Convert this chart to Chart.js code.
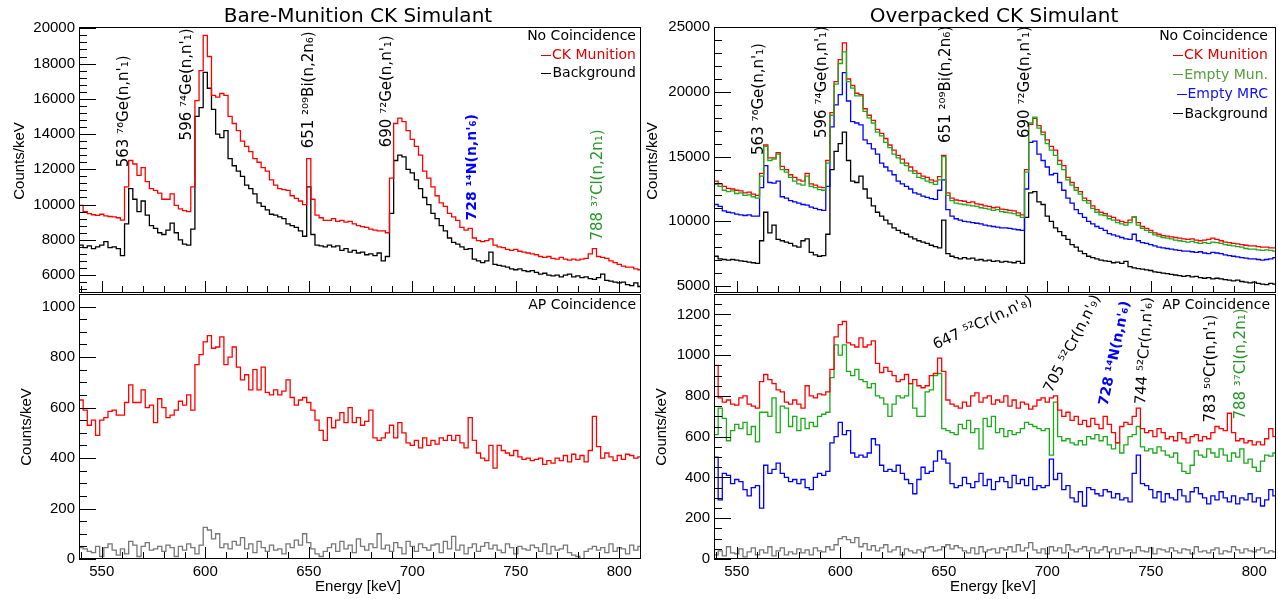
<!DOCTYPE html>
<html>
<head>
<meta charset="utf-8">
<script src="https://cdn.jsdelivr.net/npm/chart.js@4.4.0/dist/chart.umd.min.js"></script>
<style>
body { margin: 0; background: #fff; }
#wrap { position: relative; width: 1278px; height: 599px; overflow: hidden; background: #fff; }
canvas { position: absolute; }
.c { position: absolute; transform: translate(-50%, -50%); white-space: nowrap; font-family: "DejaVu Sans"; color: #000; }
.ttl { font-size: 20px; }
.xt { font: 15px "Liberation Sans"; }
.yt { position: absolute; transform: translate(-50%, -50%) rotate(-90deg); font: 15px "Liberation Sans"; white-space: nowrap; }
.lg { position: absolute; transform: translateY(-50%); font: 14px "DejaVu Sans"; white-space: nowrap; }
.d { display: inline-block; width: 10px; border-top: 1.5px solid currentColor; vertical-align: middle; margin-right: 1px; }
</style>
</head>
<body>
<div id="wrap">
  <canvas id="cTL" width="645" height="294" style="left:0;top:0"></canvas>
  <canvas id="cBL" width="645" height="306" style="left:0;top:293px"></canvas>
  <canvas id="cTR" width="633" height="294" style="left:645px;top:0"></canvas>
  <canvas id="cBR" width="633" height="306" style="left:645px;top:293px"></canvas>

  <div class="c ttl" style="left:358px;top:15px">Bare-Munition CK Simulant</div>
  <div class="c ttl" style="left:994px;top:15px">Overpacked CK Simulant</div>

  <div class="yt" style="left:18px;top:161px">Counts/keV</div>
  <div class="yt" style="left:25px;top:427px">Counts/keV</div>
  <div class="yt" style="left:651px;top:161px">Counts/keV</div>
  <div class="yt" style="left:660px;top:427px">Counts/keV</div>

  <div class="c xt" style="left:358px;top:585px">Energy [keV]</div>
  <div class="c xt" style="left:993px;top:585px">Energy [keV]</div>

  <div class="lg" style="right:642px;top:35px">No Coincidence</div>
  <div class="lg" style="right:642px;top:54px;color:#e00000"><span class="d"></span>CK Munition</div>
  <div class="lg" style="right:642px;top:72px"><span class="d"></span>Background</div>
  <div class="lg" style="right:642px;top:304px">AP Coincidence</div>

  <div class="lg" style="right:10px;top:35px">No Coincidence</div>
  <div class="lg" style="right:10px;top:54px;color:#e00000"><span class="d"></span>CK Munition</div>
  <div class="lg" style="right:10px;top:73.5px;color:#55a03c"><span class="d"></span>Empty Mun.</div>
  <div class="lg" style="right:10px;top:93px;color:#1010ff"><span class="d"></span>Empty MRC</div>
  <div class="lg" style="right:10px;top:112.5px"><span class="d"></span>Background</div>
  <div class="lg" style="right:8px;top:304px">AP Coincidence</div>
</div>

<script>
// binning: 2 keV bins, first bin starts at 539 keV (bin centres 540 ... 810)
const BIN_LO = 539;
const BIN_W = 2;
const E_MIN = 539, E_MAX = 810.5;
const xTickLabels = [550, 600, 650, 700, 750, 800];

// --- Bare munition, no coincidence ---
const ckBareNo = [
  9950, 9600, 9480, 9420, 9380, 9450, 9360, 9320, 9300, 9250,
  9120, 11000, 12500, 12300, 11650, 12100, 11300, 10900, 10800, 10650,
  10300, 10300, 10600, 9950, 9750, 9650, 9600, 11000, 15900, 17600,
  19600, 18400, 16200, 16100, 16300, 16200, 15000, 14600, 14200, 13600,
  13300, 13000, 12600, 12400, 12100, 11900, 11400, 11100, 10900, 10850,
  10800, 10500, 10350, 10200, 10000, 12600, 10300, 9400, 9250, 9100,
  9100, 9200, 9050, 9100, 9000, 9050, 8900, 8800, 8750, 8700,
  8600, 8550, 8500, 8500, 8400, 11500, 14600, 14900, 14700, 14200,
  13700, 13300, 12800, 11900, 11500, 11000, 10500, 10100, 9900, 9500,
  9300, 9100, 8700, 8550, 8650, 8100, 7950, 7900, 7950, 8050,
  7700, 7600, 7550, 7450, 7400, 7450, 7350, 7300, 7250, 7200,
  7150, 7050, 7000, 7050, 6950, 6900, 7000, 6900, 6850, 6900,
  6850, 6900, 6950, 7200, 7500, 7050, 7000, 6950, 6800, 6700,
  6600, 6500, 6450, 6450, 6350, 6300
];
const bgBareNo = [
  7700, 7550, 7650, 7500, 7600, 7700, 7900, 7550, 7600, 7500,
  7100, 8900, 10900, 10300, 9600, 10200, 9400, 8800, 8650, 8400,
  8300, 8550, 8950, 8400, 8000, 7750, 7700, 8600, 15000, 15500,
  17500, 16600, 15400, 14000, 13800, 14200, 12600, 12200, 11900, 11600,
  11100, 10900, 10600, 10100, 9900, 9700, 9450, 9400, 9300, 9200,
  8900, 8800, 8700, 8500, 8200, 11000, 8300, 7700, 7650, 7600,
  7700, 7600, 7650, 7400, 7500, 7300, 7400, 7250, 7300, 7150,
  7200, 7100, 7250, 6800, 7050, 9500, 12500, 12800, 12700, 12000,
  11800, 11400, 10900, 10400, 10000, 9500, 9200, 8800, 8500, 8100,
  7850, 7750, 7600, 7450, 7500, 6900, 6800, 6700, 6800, 7300,
  6600, 6550, 6500, 6450, 6350, 6300, 6350, 6250, 6200, 6250,
  6150, 6050, 6100, 6000, 5950, 6000, 5900, 6000, 6050, 5900,
  5950, 5850, 5900, 5800, 5750, 5850, 6050, 5700, 5650, 5600,
  5550, 5600, 5450, 5400, 5550, 5350
];

// --- Bare munition, AP coincidence ---
const ckBareAP = [
  630, 590, 530, 550, 490, 550, 560, 585, 590, 570,
  570, 620, 690, 620, 620, 670, 600, 610, 540, 635,
  600, 560, 570, 590, 625, 610, 650, 590, 770, 810,
  860, 885, 835, 840, 880, 770, 800, 840, 760, 710,
  730, 670, 750, 670, 760, 660, 650, 670, 650, 665,
  710, 640, 610, 630, 640, 620, 590, 550, 510, 470,
  560, 520, 550, 580, 540, 600, 540, 560, 530, 545,
  590, 480, 470, 480, 500, 530, 480, 540, 500, 460,
  450, 470, 440, 480, 450, 470, 455, 480, 470, 490,
  470, 490, 460, 440, 560, 470, 420, 400, 390, 450,
  360, 450, 430, 420, 410, 430, 405, 395, 400, 390,
  395, 400, 375, 390, 380, 400, 390, 410, 385, 415,
  395, 410, 385, 430, 565, 445, 400, 420, 405, 390,
  410, 395, 415, 410, 400, 405
];
const bgBareAP = [
  45, 40, 30, 25, 50, 10, 45, 60, 35, 15,
  40, 20, 70, 55, 10, 50, 65, 35, 40, 50,
  30, 55, 45, 10, 50, 35, 60, 45, 20, 55,
  125, 115, 80, 100, 45, 60, 40, 70, 55, 85,
  40, 60, 25, 70, 45, 30, 55, 35, 40, 20,
  60, 45, 75, 55, 100, 65, 40, 20, 10, 30,
  45, 60, 30, 70, 40, 55, 25, 80, 50, 35,
  60, 45, 100, 40, 55, 30, 65, 45, 20, 70,
  50, 30, 60, 45, 35, 55, 60, 25, 70, 40,
  90, 35, 55, 20, 45, 60, 30, 50, 65, 40,
  55, 35, 25, 60, 45, 20, 50, 40, 35, 55,
  45, 30, 60, 20, 50, 35, 40, 55, 25, 15,
  10, 0, 30, 40, 50, 35, 45, 25, 60, 30,
  45, 40, 20, 55, 35, 50
];

// --- Overpacked, no coincidence ---
const ckOverNo = [
  13100, 12900, 12700, 12550, 12500, 12400, 12350, 12200, 12250, 12100,
  12000, 13700, 15900, 14900, 14900, 15300, 14250, 14000, 13600, 13400,
  13200, 13100, 13700, 12900, 12800, 12650, 12600, 14700, 18400, 20800,
  22500, 23800, 21000, 20500, 19900, 19800, 18700, 18200, 17800, 17100,
  16800, 16400, 15900, 15500, 15100, 14800, 14500, 14200, 13900, 13700,
  13500, 13400, 13200, 13100, 13450, 15100, 12200, 11800, 11650, 11600,
  11550, 11450, 11500, 11350, 11300, 11200, 11150, 11050, 11100, 10950,
  10900, 10850, 10800, 10650, 10500, 14000, 17500, 17950, 17400, 16900,
  16300, 15800, 15500, 14700, 14300, 13400, 13000, 12600, 12300, 11800,
  11600, 11200, 10900, 10700, 10600, 10400, 10300, 10100, 10000, 9900,
  10100, 10350, 9900, 9600, 9450, 9300, 9100, 9000, 8900, 8850,
  8800, 8750, 8700, 8650, 8600, 8650, 8550, 8500, 8550, 8600,
  8700, 8600, 8500, 8400, 8350, 8300, 8250, 8200, 8150, 8100,
  8100, 8050, 8000, 8000, 7950, 7950
];
const emptyMunNo = [
  12850, 12700, 12400, 12300, 12350, 12150, 12200, 12000, 12050, 11900,
  11800, 13500, 15800, 14700, 14800, 15200, 14000, 13800, 13400, 13100,
  12900, 12800, 13500, 12700, 12600, 12450, 12400, 14500, 18200, 20600,
  22200, 23100, 20800, 20300, 19700, 19700, 18500, 18000, 17600, 16900,
  16600, 16100, 15700, 15200, 14900, 14500, 14300, 13900, 13700, 13400,
  13300, 13100, 13000, 12850, 13200, 15000, 12000, 11600, 11400, 11350,
  11300, 11250, 11200, 11150, 11050, 11000, 10950, 10850, 10900, 10750,
  10700, 10650, 10600, 10450, 10300, 13800, 17600, 18050, 17200, 16700,
  16000, 15500, 15100, 14400, 14000, 13200, 12800, 12400, 12100, 11600,
  11400, 11000, 10700, 10500, 10450, 10200, 10100, 9900, 9800, 9700,
  9900, 10300, 9700, 9450, 9300, 9150, 8950, 8850, 8750, 8700,
  8650, 8550, 8500, 8450, 8400, 8450, 8350, 8300, 8350, 8300,
  8400, 8350, 8300, 8200, 8150, 8100, 8050, 8000, 7900, 7850,
  7850, 7800, 7750, 7800, 7750, 7700
];
const emptyMrcNo = [
  11300, 11150, 10800, 10700, 10650, 10550, 10500, 10450, 10500, 10400,
  10400, 12600, 14300, 13000, 12950, 13100, 11900, 11800, 11600, 11500,
  11400, 11300, 11250, 11100, 11000, 10900, 10850, 12700, 17300, 19000,
  19800, 21500, 19300, 17700, 17600, 17450, 16300, 16000, 15600, 15200,
  14500, 14200, 13900, 13600, 13100, 12900, 12700, 12500, 12200, 12100,
  11950, 11850, 11750, 11700, 12400, 13200, 10900, 10400, 10200, 10100,
  10000, 9950, 9900, 9850, 9800, 9700, 9650, 9600, 9550, 9500,
  9500, 9450, 9400, 9350, 9300, 12500, 16100, 16200, 15200, 14700,
  14200, 13600, 13700, 13000, 12400, 11800, 11400, 10900, 10600, 10300,
  10000, 9800, 9600, 9450, 9300, 9050, 8950, 8850, 8750, 8650,
  8600, 9000, 8500, 8350, 8300, 8200, 8100, 8000, 7950, 7900,
  7850, 7800, 7750, 7700, 7700, 7650, 7600, 7650, 7550, 7500,
  7600, 7550, 7500, 7400, 7350, 7300, 7250, 7200, 7150, 7100,
  7100, 7050, 7000, 7050, 7100, 7200
];
const bgOverNo = [
  7300, 7100, 7050, 7000, 7050, 7000, 6950, 6900, 6850, 6800,
  6750, 8500, 10700, 9100, 9700, 8600, 8500, 8400, 8300, 8100,
  8000, 8500, 8650, 7600, 7400, 7300, 7350, 9000, 14000, 15400,
  16000, 16900, 14700, 13100, 13000, 13500, 12500, 11800, 11200, 10700,
  10400, 10100, 9800, 9500, 9300, 9100, 9000, 8800, 8650, 8500,
  8400, 8300, 8150, 8050, 7950, 10100, 7500, 7300, 7200, 7100,
  7200, 7100, 7150, 7000, 7050, 6950, 7000, 6900, 6950, 6850,
  6900, 6850, 6800, 6900, 6750, 10300, 12200, 12300, 11500, 11300,
  10400, 10000, 9500, 9200, 8900, 8600, 8200, 8000, 7700, 7500,
  7300, 7200, 7100, 7000, 6950, 6900, 6800, 6850, 6750, 6900,
  6500, 6400, 6350, 6300, 6250, 6200, 6100, 6050, 6000, 5950,
  5900, 5850, 5800, 5750, 5800, 5700, 5750, 5650, 5600, 5650,
  5550, 5600, 5550, 5500, 5450, 5400, 5450, 5350, 5300, 5250,
  5300, 5200, 5150, 5100, 5200, 5150
];

// --- Overpacked, AP coincidence ---
const ckOverAP = [
  950, 790, 770, 780, 760, 755, 790, 800, 760, 750,
  740, 870, 905, 880, 860, 830, 820, 770, 760, 780,
  760, 740, 850, 800, 790, 810, 805, 820, 930, 1090,
  1150, 1165, 1060, 1050, 1040, 1085, 1040, 1050, 1070, 960,
  915, 940, 920, 900, 870, 880, 905, 860, 880, 850,
  840, 850, 900, 910, 985, 920, 780, 760, 750, 740,
  770, 750, 800, 815, 770, 790, 800, 760, 780, 770,
  800, 750, 780, 740, 770, 760, 735, 750, 780, 790,
  770, 790, 800, 730, 700, 720, 680, 700, 660, 680,
  650, 690, 660, 640, 700, 660, 620, 570, 650, 670,
  660, 700, 740, 640, 620, 630, 600, 640, 620, 590,
  600, 580, 620, 590, 570, 600, 610, 580, 600, 590,
  620, 650, 640, 630, 715, 620, 580, 590, 570, 580,
  560, 575, 560, 590, 640, 600
];
const emptyMunAP = [
  610, 740, 690, 580, 630, 660, 640, 670, 610, 650,
  575, 720, 720, 700, 790, 620, 750, 740, 650, 700,
  630, 690, 640, 670, 650, 700, 710, 720, 890, 1050,
  1000, 1050, 920, 900, 930, 880, 870, 840, 860, 800,
  790, 760, 700, 760, 800, 790, 800, 860, 740, 700,
  700, 820, 830, 900, 910, 640, 630, 620, 610, 660,
  640, 680, 620, 640, 540, 690, 650, 700, 620, 640,
  600, 630, 610, 620, 640, 670, 660, 650, 640, 630,
  640, 510, 770, 600, 580, 590, 570, 560, 580, 560,
  600, 590, 610, 580, 600, 560, 540, 570, 520, 560,
  600, 610, 650, 550, 530, 540, 520, 550, 530, 510,
  500, 520, 470, 430, 420, 460, 530, 510, 500, 540,
  520, 500, 540, 510, 480, 520, 500, 540, 470, 490,
  450, 430, 480, 510, 505, 520
];
const emptyMrcAP = [
  500, 290, 420, 410, 370, 390, 380, 340, 310, 350,
  360, 250, 460, 420, 440, 470, 420, 400, 380, 390,
  370, 390, 350, 340, 400, 420, 410, 430, 570, 600,
  670, 610, 630, 520, 500, 510, 500, 520, 590, 560,
  460, 430, 440, 430, 460, 420, 390, 370, 320, 390,
  450, 420, 430, 480, 530, 490, 470, 370, 350, 360,
  400, 370, 350, 380, 420, 360, 390, 340, 380, 400,
  380, 350, 410, 370, 390, 360, 400, 340, 360, 350,
  360, 490, 390, 420, 340, 360, 300, 280, 330, 260,
  350, 340, 320, 310, 340, 330, 300, 320, 290, 300,
  280, 420, 510, 370, 360, 340, 300, 330, 280, 320,
  300, 290, 340, 310, 280, 330, 350, 320, 300, 270,
  310, 290, 330, 300, 280, 310, 270, 300, 290, 320,
  280, 300, 260, 290, 340, 310
];
const bgOverAP = [
  20, 40, 15, 60, 30, 25, 50, 10, 35, 55,
  20, 45, 30, 60, 15, 40, 55, 20, 35, 25,
  50, 30, 45, 20, 55, 40, 35, 60, 45, 70,
  100, 110, 95, 80, 105, 60, 75, 45, 65, 40,
  55, 70, 35, 45, 60, 20, 50, 40, 30, 45,
  35, 55, 60, 40, 45, 60, 70, 50, 65, 55,
  40, 30, 55, 25, 60, 35, 45, 50, 30, 55,
  45, 60, 35, 70, 40, 55, 80, 45, 30, 50,
  25, 60, 40, 55, 30, 70, 45, 35, 50, 60,
  40, 55, 30, 45, 60, 35, 50, 25, 55, 40,
  45, 30, 60, 40, 35, 55, 25, 50, 45, 35,
  55, 40, 30, 50, 45, 25, 60, 35, 40, 30,
  45, 55, 25, 40, 35, 60, 45, 30, 50, 40,
  35, 45, 55, 30, 40, 35
];

// y axis tick labels per panel
const yTicksTL = [6000, 8000, 10000, 12000, 14000, 16000, 18000, 20000];
const yTicksBL = [0, 200, 400, 600, 800, 1000];
const yTicksTR = [5000, 10000, 15000, 20000, 25000];
const yTicksBR = [0, 200, 400, 600, 800, 1000, 1200];

const RED = '#ff0000', GREEN = '#1aaa1a', BLUE = '#0000ff', BLACK = '#000000', GRAY = '#777777';
const NOTE_GREEN = '#27962a';

// peak labels: x in keV, y in counts/keV (start of text), a = angle in degrees
const notesTL = [
  {x: 560.7, y: 12110, t: "563 ⁷⁶Ge(n,n'₁)", a: 90},
  {x: 591.2, y: 13640, t: "596 ⁷⁴Ge(n,n'₁)", a: 90},
  {x: 650.1, y: 13190, t: "651 ²⁰⁹Bi(n,2n₆)", a: 90},
  {x: 687.8, y: 13250, t: "690 ⁷²Ge(n,n'₁)", a: 90},
  {x: 728.9, y: 9090, t: "728 ¹⁴N(n,n'₆)", a: 90, c: BLUE, b: true},
  {x: 789.7, y: 7960, t: "788 ³⁷Cl(n,2n₁)", a: 90, c: NOTE_GREEN}
];
const notesTR = [
  {x: 560.7, y: 15130, t: "563 ⁷⁶Ge(n,n'₁)", a: 90},
  {x: 591.2, y: 16440, t: "596 ⁷⁴Ge(n,n'₁)", a: 90},
  {x: 651.1, y: 16060, t: "651 ²⁰⁹Bi(n,2n₆)", a: 90},
  {x: 689.2, y: 16440, t: "690 ⁷²Ge(n,n'₁)", a: 90}
];
const notesBR = [
  {x: 645.3, y: 1045, t: "647 ⁵²Cr(n,n'₈)", a: 25},
  {x: 700.5, y: 820, t: "705 ⁵²Cr(n,n'₉)", a: 63},
  {x: 727.4, y: 753, t: "728 ¹⁴N(n,n'₆)", a: 78, c: BLUE, b: true},
  {x: 745.3, y: 758, t: "744 ⁵²Cr(n,n'₆)", a: 86},
  {x: 779.1, y: 670, t: "783 ⁵⁰Cr(n,n'₁)", a: 90},
  {x: 793.6, y: 684, t: "788 ³⁷Cl(n,2n₁)", a: 90, c: NOTE_GREEN}
];

function steps(vals) {
  const pts = vals.map((v, i) => ({x: BIN_LO + i * BIN_W, y: v}));
  pts.push({x: BIN_LO + vals.length * BIN_W, y: vals[vals.length - 1]});
  return pts;
}

// frame, inner ticks and peak labels (ROOT style)
const decorCfg = {};
const decor = {
  id: 'decor',
  afterDatasetsDraw(chart) {
    const o = decorCfg[chart.canvas.id];
    const {ctx, chartArea: a} = chart;
    const x = chart.scales.x, y = chart.scales.y;
    ctx.save();
    ctx.strokeStyle = '#000';
    ctx.lineWidth = 1;
    ctx.beginPath();
    for (let v = Math.ceil(y.min / o.minor) * o.minor; v <= y.max; v += o.minor) {
      const py = Math.round(y.getPixelForValue(v)) + 0.5;
      const len = o.major.includes(v) ? 17 : 8;
      ctx.moveTo(a.left, py);
      ctx.lineTo(a.left + len, py);
    }
    for (let v = 540; v <= x.max; v += 10) {
      const px = Math.round(x.getPixelForValue(v)) + 0.5;
      const len = v % 50 === 0 ? 12 : 7;
      ctx.moveTo(px, a.bottom);
      ctx.lineTo(px, a.bottom - len);
    }
    ctx.stroke();
    ctx.strokeRect(Math.round(a.left) + 0.5, Math.round(a.top) + 0.5,
      Math.round(a.right - a.left) - 1, Math.round(a.bottom - a.top) - 1);

    o.notes.forEach(n => {
      ctx.save();
      ctx.translate(x.getPixelForValue(n.x), y.getPixelForValue(n.y));
      ctx.rotate(-n.a * Math.PI / 180);
      ctx.font = (n.b ? 'bold 14px' : '15px') + ' "DejaVu Sans"';
      ctx.fillStyle = n.c || '#000';
      ctx.textAlign = 'left';
      ctx.textBaseline = 'middle';
      ctx.fillText(n.t, 0, 0);
      ctx.restore();
    });
    ctx.restore();
  }
};

function makeChart(id, sets, yMin, yMax, yTicks, yMinor, yWidth, showX, pad, notes) {
  decorCfg[id] = {major: yTicks, minor: yMinor, notes: notes};
  new Chart(document.getElementById(id), {
    type: 'line',
    data: {
      datasets: sets.map(s => ({
        data: steps(s.vals),
        borderColor: s.color,
        borderWidth: 1.3,
        stepped: true,
        pointRadius: 0,
        fill: false
      }))
    },
    options: {
      responsive: false,
      animation: false,
      events: [],
      parsing: false,
      layout: {padding: pad},
      plugins: {legend: {display: false}, tooltip: {enabled: false}},
      scales: {
        x: {
          type: 'linear',
          min: E_MIN,
          max: E_MAX,
          display: showX,
          grid: {display: false, drawTicks: false},
          border: {display: false},
          ticks: {
            autoSkip: false,
            maxRotation: 0,
            padding: 4,
            color: '#000',
            font: {family: 'Liberation Sans', size: 15},
            callback: v => String(v)
          },
          afterBuildTicks: s => { s.ticks = xTickLabels.map(v => ({value: v})); },
          afterFit: s => { s.height = showX ? 40 : 0; s.paddingLeft = 0; s.paddingRight = 0; }
        },
        y: {
          type: 'linear',
          min: yMin,
          max: yMax,
          grid: {display: false, drawTicks: false},
          border: {display: false},
          ticks: {
            padding: 4,
            color: '#000',
            font: {family: 'Liberation Sans', size: 15},
            callback: v => String(v)
          },
          afterBuildTicks: s => { s.ticks = yTicks.map(v => ({value: v})); },
          afterFit: s => { s.width = yWidth; s.paddingTop = 0; s.paddingBottom = 0; }
        }
      }
    },
    plugins: [decor]
  });
}

makeChart('cTL',
  [{vals: ckBareNo, color: RED}, {vals: bgBareNo, color: BLACK}],
  4980, 20075, yTicksTL, 400, 79, false, {left: 0, top: 27, right: 4, bottom: 1}, notesTL);

makeChart('cBL',
  [{vals: ckBareAP, color: RED}, {vals: bgBareAP, color: GRAY}],
  0, 1050, yTicksBL, 50, 79, true, {left: 0, top: 1, right: 4, bottom: 0}, []);

makeChart('cTR',
  [{vals: emptyMunNo, color: GREEN}, {vals: ckOverNo, color: RED},
   {vals: emptyMrcNo, color: BLUE}, {vals: bgOverNo, color: BLACK}],
  4460, 25020, yTicksTR, 1000, 69, false, {left: 0, top: 27, right: 2, bottom: 1}, notesTR);

makeChart('cBR',
  [{vals: ckOverAP, color: RED}, {vals: emptyMunAP, color: GREEN},
   {vals: emptyMrcAP, color: BLUE}, {vals: bgOverAP, color: GRAY}],
  0, 1300, yTicksBR, 50, 69, true, {left: 0, top: 1, right: 2, bottom: 0}, notesBR);
</script>
</body>
</html>
